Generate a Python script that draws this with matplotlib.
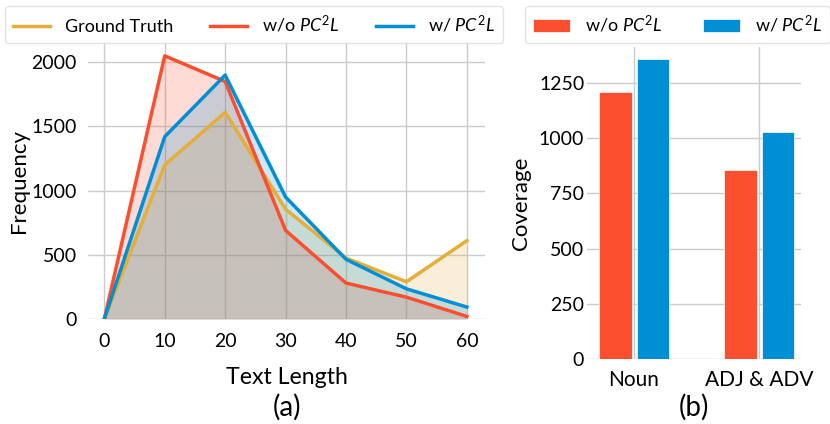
import matplotlib
matplotlib.use("Agg")
import matplotlib.pyplot as plt
import numpy as np

text_length = [0, 10, 20, 30, 40, 50, 60]
ground_truth = [0, 1200, 1610, 855, 475, 290, 610]
wo_pc2l = [0, 2050, 1850, 690, 280, 170, 20]
w_pc2l = [0, 1420, 1900, 950, 465, 235, 93]

pos_tags = ["Noun", "ADJ & ADV"]
cov_wo = [1210, 855]
cov_w = [1360, 1030]

GOLD = "#e5ae38"
RED = "#fc4f30"
BLUE = "#008fd5"

plt.rcParams["font.family"] = ["Lato", "DejaVu Sans"]
plt.rcParams["mathtext.fontset"] = "custom"
plt.rcParams["mathtext.it"] = "Lato:italic"
plt.rcParams["mathtext.rm"] = "Lato"

fig = plt.figure(figsize=(8.3, 4.24), dpi=100)
ax1 = fig.add_axes([88 / 830, 1 - 319 / 424, 397 / 830, 276 / 424])
ax2 = fig.add_axes([587 / 830, 1 - 359 / 424, 214 / 830, 312 / 424])

for ax in (ax1, ax2):
    ax.grid(True, color="#cbcbcb", linewidth=1)
    ax.set_axisbelow(True)
    for s in ax.spines.values():
        s.set_visible(False)
    ax.tick_params(length=0, labelsize=14)

leg_kw = dict(loc="upper left", fontsize=13, frameon=True, edgecolor="#dddddd",
              handlelength=2.05, handletextpad=0.85,
              borderaxespad=0, borderpad=0.45)

# (a) line chart
for vals, col, lab in ((ground_truth, GOLD, "Ground Truth"),
                       (wo_pc2l, RED, "w/o $PC^2L$"),
                       (w_pc2l, BLUE, "w/ $PC^2L$")):
    ax1.plot(text_length, vals, color=col, linewidth=2.5, label=lab)
    ax1.fill_between(text_length, vals, 0, color=col, alpha=0.2, linewidth=0)

ax1.set_xticks(text_length)
ax1.set_yticks([0, 500, 1000, 1500, 2000])
ax1.set_xlim(-2.7, 63)
ax1.set_ylim(0, 2150)
ax1.tick_params(axis="x", pad=10)
ax1.tick_params(axis="y", pad=8)
ax1.set_ylabel("Frequency", fontsize=16, labelpad=2)
ax1.set_xlabel("Text Length", fontsize=16.7, labelpad=12)
ax1.text(0.5, -0.32, "(a)", transform=ax1.transAxes, ha="center", va="center", fontsize=20)
fig.legend(*ax1.get_legend_handles_labels(), ncol=3, columnspacing=2.0,
           bbox_to_anchor=(5 / 830, 1 - 6 / 424), **leg_kw)

# (b) bar chart
x = np.arange(len(pos_tags))
w = 0.26
ax2.bar(x - 0.15, cov_wo, w, color=RED, edgecolor="white", linewidth=0.5, label="w/o $PC^2L$")
ax2.bar(x + 0.15, cov_w, w, color=BLUE, edgecolor="white", linewidth=0.5, label="w/ $PC^2L$")
ax2.set_xticks(x, pos_tags)
ax2.set_yticks([0, 250, 500, 750, 1000, 1250])
ax2.set_xlim(-0.376, 1.336)
ax2.set_ylim(0, 1413)
ax2.tick_params(axis="x", pad=8, labelsize=15)
ax2.tick_params(axis="y", pad=2)
ax2.set_ylabel("Coverage", fontsize=16, labelpad=6)
ax2.text(0.5, -0.155, "(b)", transform=ax2.transAxes, ha="center", va="center", fontsize=20)
fig.legend(*ax2.get_legend_handles_labels(), ncol=2, columnspacing=2.2,
           bbox_to_anchor=(525 / 830, 1 - 6 / 424), **leg_kw)

fig.savefig("out.png", dpi=100)
